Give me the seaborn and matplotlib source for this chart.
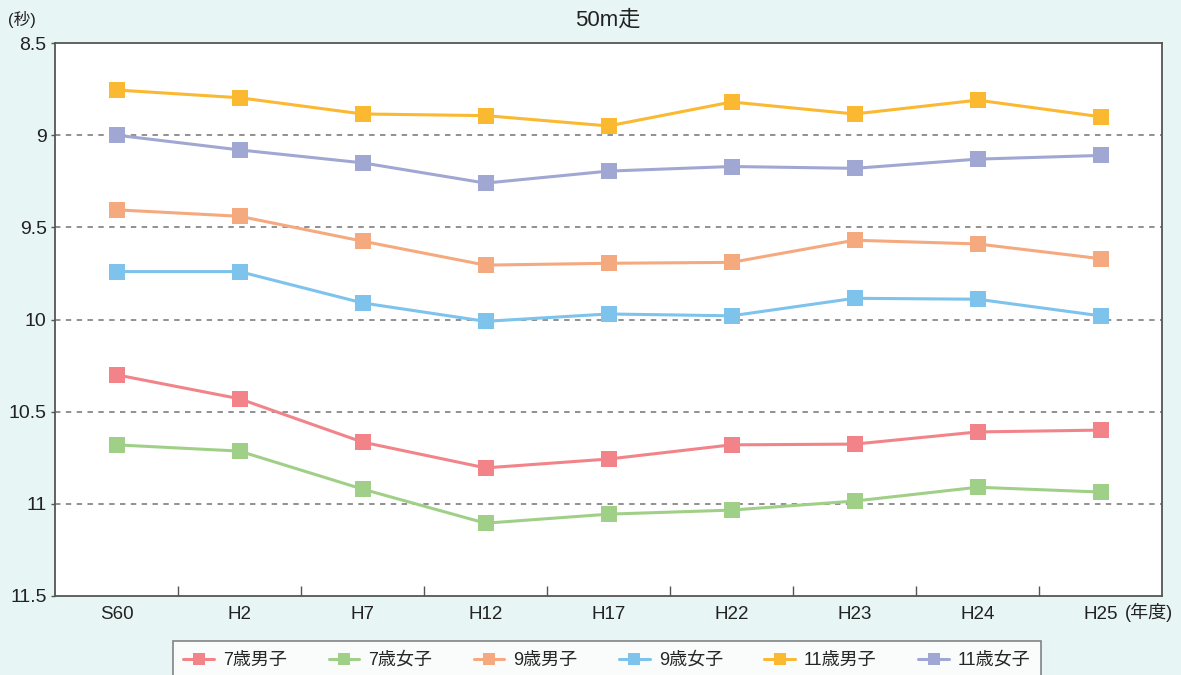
import matplotlib
matplotlib.use("Agg")
import matplotlib.pyplot as plt
import seaborn as sns
import pandas as pd
from matplotlib.ticker import FixedLocator, NullFormatter

years = ["S60", "H2", "H7", "H12", "H17", "H22", "H23", "H24", "H25"]
series_names = ["7歳男子", "7歳女子", "9歳男子", "9歳女子", "11歳男子", "11歳女子"]
boys7 = [10.30, 10.43, 10.665, 10.805, 10.757, 10.68, 10.676, 10.61, 10.60]
girls7 = [10.68, 10.714, 10.92, 11.105, 11.056, 11.034, 10.985, 10.91, 10.936]
boys9 = [9.405, 9.44, 9.575, 9.705, 9.695, 9.69, 9.57, 9.59, 9.67]
girls9 = [9.74, 9.74, 9.91, 10.01, 9.97, 9.98, 9.885, 9.89, 9.98]
boys11 = [8.755, 8.797, 8.885, 8.894, 8.95, 8.82, 8.885, 8.81, 8.90]
girls11 = [9.0, 9.08, 9.15, 9.26, 9.195, 9.17, 9.18, 9.13, 9.11]
colors = ["#F28489", "#A0D088", "#F5A97F", "#7DC3EB", "#FBB831", "#A1A7D3"]
yticks = [8.5, 9, 9.5, 10, 10.5, 11, 11.5]
ytick_labels = ["8.5", "9", "9.5", "10", "10.5", "11", "11.5"]

all_vals = [boys7, girls7, boys9, girls9, boys11, girls11]
rows = []
for name, vals in zip(series_names, all_vals):
    for i, (yr, v) in enumerate(zip(years, vals)):
        rows.append({"year": yr, "x": i, "value": v, "series": name})
df = pd.DataFrame(rows)

sns.set_theme(style="white")
plt.rcParams["font.family"] = ["Liberation Sans", "Noto Sans CJK JP", "DejaVu Sans"]

bg = "#E8F5F5"
txt = "#222222"
fig = plt.figure(figsize=(11.81, 6.75), dpi=100, facecolor=bg)
ax = fig.add_axes([55/1181, 1-596/675, (1162-55)/1181, (596-43)/675])
ax.set_facecolor("white")

sns.lineplot(data=df, x="x", y="value", hue="series", hue_order=series_names,
             palette=colors, marker="s", markersize=12, markeredgewidth=0,
             linewidth=2.2, dashes=False, ax=ax, legend=True)

ax.set_xlim(-0.5, 8.5)
ax.set_ylim(11.5, 8.5)
ax.set_xticks(range(len(years)))
ax.set_xticklabels(years, fontsize=13.5, color=txt)
ax.tick_params(axis="x", which="major", length=0, pad=7)
ax.xaxis.set_minor_locator(FixedLocator([i + 0.5 for i in range(len(years) - 1)]))
ax.xaxis.set_minor_formatter(NullFormatter())
ax.tick_params(axis="x", which="minor", direction="in", length=7, width=1, color="#555555", bottom=True)
ax.set_yticks(yticks)
ax.set_yticklabels(ytick_labels, fontsize=14, color=txt)
ax.tick_params(axis="y", length=3, width=1, color="#555555", left=True, pad=3)
for y in [9, 9.5, 10, 10.5, 11]:
    ax.axhline(y, color="#888888", linestyle=(0, (3, 3)), linewidth=1.3, zorder=0)
for s in ax.spines.values():
    s.set_color("#555555")
    s.set_linewidth(1.3)
ax.set_xlabel("")
ax.set_ylabel("")

fig.text(608/1181, 1-20/675, "50m走", ha="center", va="center", fontsize=16, color=txt)
fig.text(8/1181, 1-20/675, "(秒)", ha="left", va="center", fontsize=12, color=txt)
fig.text(1125/1181, 1-612/675, "(年度)", ha="left", va="center", fontsize=13, color=txt)

handles, labels = ax.get_legend_handles_labels()
for h in handles:
    h.set_markersize(9)
ax.legend_.remove()
leg = fig.legend(handles, labels, loc="upper center", bbox_to_anchor=(607/1181, 1-632/675),
                 ncol=6, frameon=True, fancybox=False, edgecolor="#666666", facecolor="white",
                 fontsize=13, handlelength=1.7, columnspacing=2.3, borderpad=0.6,
                 handletextpad=0.5)
leg.get_frame().set_linewidth(1.2)

fig.savefig("out.png", dpi=100, facecolor=bg)
